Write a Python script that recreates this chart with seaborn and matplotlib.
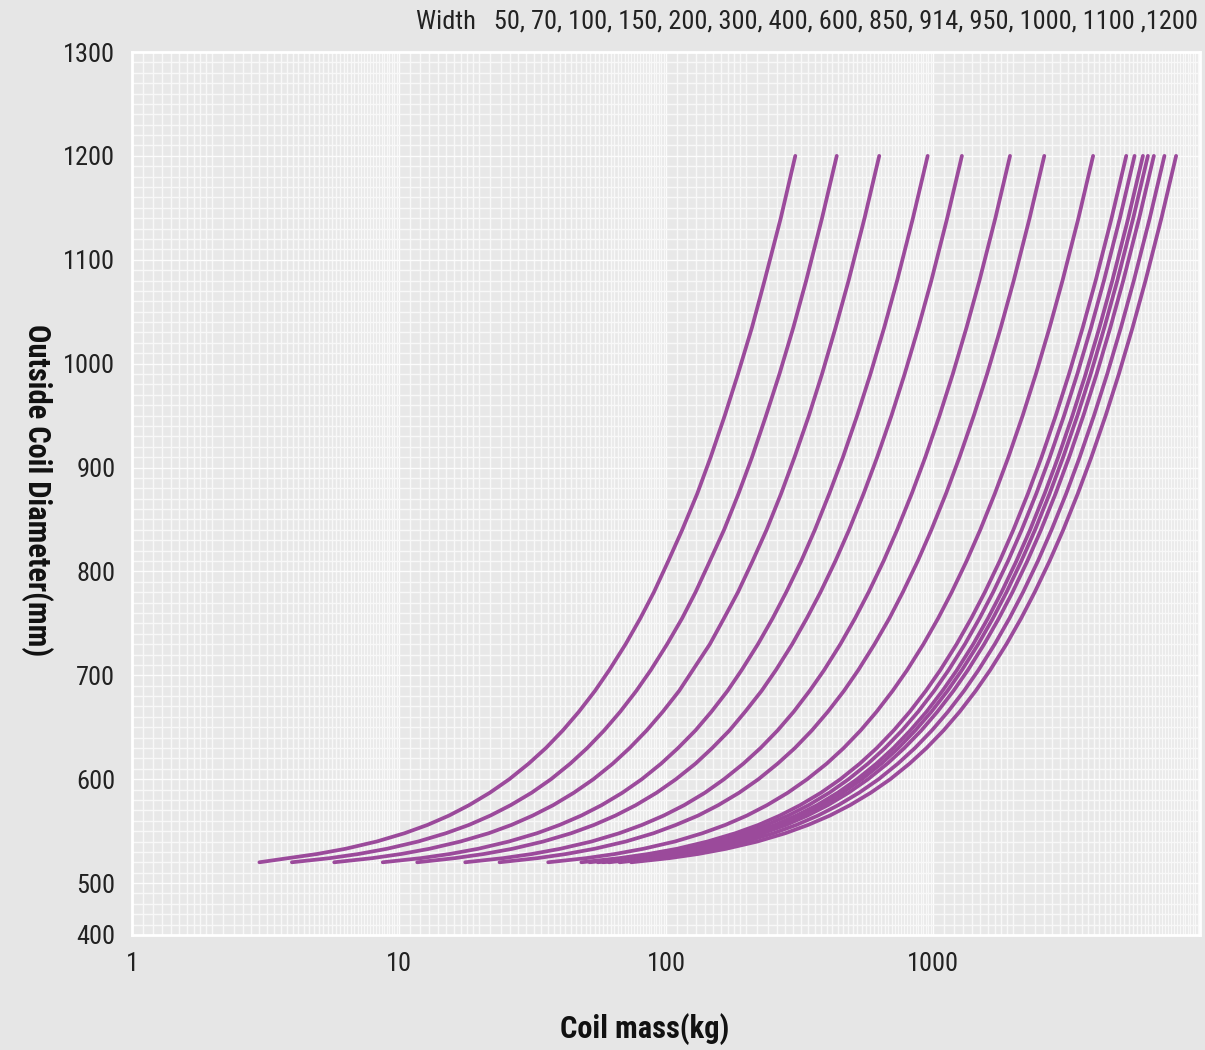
import numpy as np
import pandas as pd
import matplotlib
matplotlib.use("Agg")
import matplotlib.pyplot as plt
from matplotlib.ticker import FixedLocator, MultipleLocator, NullFormatter
import seaborn as sns

sns.set_theme(style="white")
plt.rcParams['font.family'] = ['Roboto Condensed', 'Archivo Narrow', 'DejaVu Sans']

# outside diameter (mm), shared by every curve
diameter = [520, 524, 528, 533, 540, 548, 556, 565, 575, 587, 600, 615, 630, 647, 665,
            685, 705, 730, 755, 780, 810, 840, 875, 910, 950, 990, 1035, 1080, 1140, 1200]

# coil mass (kg) (one list per width curve)
mass_1 = [3.0, 3.85, 4.94, 6.31, 8.25, 10.5, 12.8, 15.4, 18.3, 21.9, 25.9, 30.6, 35.5, 41.1, 47.2,
          54.2, 61.3, 70.6, 80.2, 90.1, 102, 115, 131, 147, 166, 186, 210, 234, 269, 305]
mass_2 = [3.97, 5.51, 7.06, 9.02, 11.8, 15.0, 18.3, 22.0, 26.2, 31.4, 37.1, 43.8, 50.7, 58.7, 67.4,
          77.4, 87.7, 101, 115, 129, 146, 165, 187, 210, 237, 266, 300, 335, 384, 436]
mass_3 = [5.72, 7.95, 10.2, 13.0, 17.0, 21.7, 26.4, 31.7, 37.8, 45.2, 53.5, 63.2, 73.1, 84.7, 97.3,
          112, 126, 146, 165, 186, 211, 238, 270, 303, 343, 384, 432, 483, 554, 629]
mass_4 = [8.69, 12.1, 15.5, 19.8, 25.8, 32.9, 40.0, 48.2, 57.4, 68.7, 81.2, 95.9, 111, 129, 148,
          170, 192, 221, 251, 282, 321, 361, 409, 460, 520, 583, 657, 734, 841, 955]
mass_5 = [11.7, 16.2, 20.8, 26.6, 34.7, 44.2, 53.8, 64.7, 77.1, 92.3, 109, 129, 149, 173, 198,
          228, 258, 297, 337, 379, 431, 485, 550, 618, 699, 783, 882, 986, 1130, 1283]
mass_6 = [17.7, 24.6, 31.5, 40.2, 52.6, 66.9, 81.4, 98.1, 117, 140, 165, 195, 226, 262, 301,
          345, 391, 450, 511, 574, 653, 734, 833, 936, 1058, 1186, 1336, 1493, 1712, 1943]
mass_7 = [23.8, 33.0, 42.3, 54.0, 70.7, 89.9, 109, 132, 157, 188, 222, 262, 304, 352, 404,
          464, 525, 604, 687, 771, 877, 986, 1119, 1257, 1422, 1594, 1795, 2006, 2300, 2611]
mass_8 = [36.2, 50.3, 64.5, 82.3, 108, 137, 167, 201, 239, 286, 338, 400, 463, 536, 615,
          706, 800, 921, 1046, 1175, 1336, 1503, 1705, 1916, 2167, 2428, 2735, 3056, 3505, 3978]
mass_9 = [48.2, 66.9, 85.8, 110, 143, 182, 222, 267, 318, 381, 450, 532, 616, 713, 819,
          940, 1065, 1226, 1392, 1564, 1778, 2000, 2269, 2550, 2883, 3231, 3640, 4067, 4664, 5294]
mass_10 = [51.8, 71.9, 92.1, 118, 154, 196, 238, 287, 342, 409, 483, 571, 661, 766, 880,
           1010, 1144, 1317, 1495, 1680, 1910, 2149, 2438, 2739, 3097, 3471, 3910, 4369, 5011, 5687]
mass_11 = [55.6, 77.3, 99.0, 127, 165, 211, 256, 308, 368, 440, 520, 614, 711, 823, 946,
           1085, 1229, 1415, 1607, 1806, 2053, 2310, 2620, 2944, 3329, 3731, 4203, 4696, 5386, 6113]
mass_12 = [58.1, 80.6, 103, 132, 173, 220, 267, 322, 384, 459, 542, 641, 742, 859, 987,
           1133, 1283, 1477, 1678, 1885, 2143, 2411, 2735, 3073, 3475, 3895, 4387, 4902, 5622, 6381]
mass_13 = [61.1, 84.9, 109, 139, 182, 231, 282, 339, 404, 483, 571, 675, 781, 905, 1039,
           1193, 1351, 1555, 1766, 1985, 2256, 2538, 2879, 3235, 3658, 4100, 4618, 5160, 5918, 6717]
mass_14 = [67.0, 93.0, 119, 152, 199, 253, 308, 371, 442, 529, 626, 739, 856, 991, 1138,
           1307, 1480, 1704, 1935, 2174, 2472, 2780, 3155, 3544, 4008, 4492, 5060, 5653, 6484, 7359]
mass_15 = [74.1, 103, 132, 168, 220, 280, 341, 411, 489, 585, 692, 817, 946, 1096, 1259,
           1445, 1637, 1884, 2140, 2404, 2733, 3075, 3488, 3919, 4432, 4967, 5595, 6252, 7170, 8138]

curves = [mass_1, mass_2, mass_3, mass_4, mass_5, mass_6, mass_7, mass_8,
          mass_9, mass_10, mass_11, mass_12, mass_13, mass_14, mass_15]

width_note = "Width   50, 70, 100, 150, 200, 300, 400, 600, 850, 914, 950, 1000, 1100 ,1200"

y_ticks = [450, 500, 600, 700, 800, 900, 1000, 1100, 1200, 1300]
y_labels = ["400", "500", "600", "700", "800", "900", "1000", "1100", "1200", "1300"]
x_ticks = [1, 10, 100, 1000]
x_labels = ["1", "10", "100", "1000"]

rows = []
for i, m in enumerate(curves):
    for d, v in zip(diameter, m):
        rows.append({"curve": i, "mass": v, "diameter": d})
df = pd.DataFrame(rows)

bg = "#e6e6e6"
purple = "#9b4a9b"

fig = plt.figure(figsize=(12.05, 10.5), dpi=100, facecolor=bg)
ax = fig.add_axes([132/1205, 1-935/1050, 1068/1205, 883/1050])
ax.set_facecolor("#e8e8e8")

sns.lineplot(data=df, x="mass", y="diameter", units="curve", estimator=None,
             sort=False, color=purple, linewidth=2.7, ax=ax, legend=False)

ax.set_xscale("log")
ax.set_xlim(1, 10000)
ax.set_ylim(450, 1300)

# fine white grid
minor_x = []
for dec in [1, 10, 100, 1000]:
    minor_x += list(dec * np.arange(1.0, 2.0, 0.1)) + list(dec * np.arange(2.0, 10.0, 0.2))
ax.xaxis.set_minor_locator(FixedLocator(minor_x))
ax.xaxis.set_minor_formatter(NullFormatter())
ax.xaxis.set_major_locator(FixedLocator(x_ticks))
ax.set_xticklabels(x_labels)
ax.yaxis.set_major_locator(FixedLocator(y_ticks))
ax.set_yticklabels(y_labels)
ax.yaxis.set_minor_locator(MultipleLocator(10))

ax.grid(which="minor", color="#f8f8f8", linewidth=1.0)
ax.grid(which="major", color="#fcfcfc", linewidth=1.0)
ax.set_axisbelow(True)

ax.tick_params(which="both", length=0)
ax.tick_params(axis="x", labelsize=19, pad=12, colors="#222222")
ax.tick_params(axis="y", labelsize=19, pad=12, colors="#222222")

for s in ax.spines.values():
    s.set_color("white")
    s.set_linewidth(2)

ax.set_xlabel("Coil mass(kg)", fontsize=22, fontweight="semibold", color="#111111", va="top")
ax.xaxis.set_label_coords(0.4805, -0.088)
ax.set_ylabel("Outside Coil Diameter(mm)", fontsize=22, fontweight="semibold",
              color="#111111", rotation=270, va="center", ha="center")
ax.yaxis.set_label_coords(-0.089, 0.504)

ax.text(0.998, 1.034, width_note, transform=ax.transAxes, ha="right", va="center",
        fontsize=19, color="#222222")

fig.savefig("out.png", dpi=100, facecolor=bg)
